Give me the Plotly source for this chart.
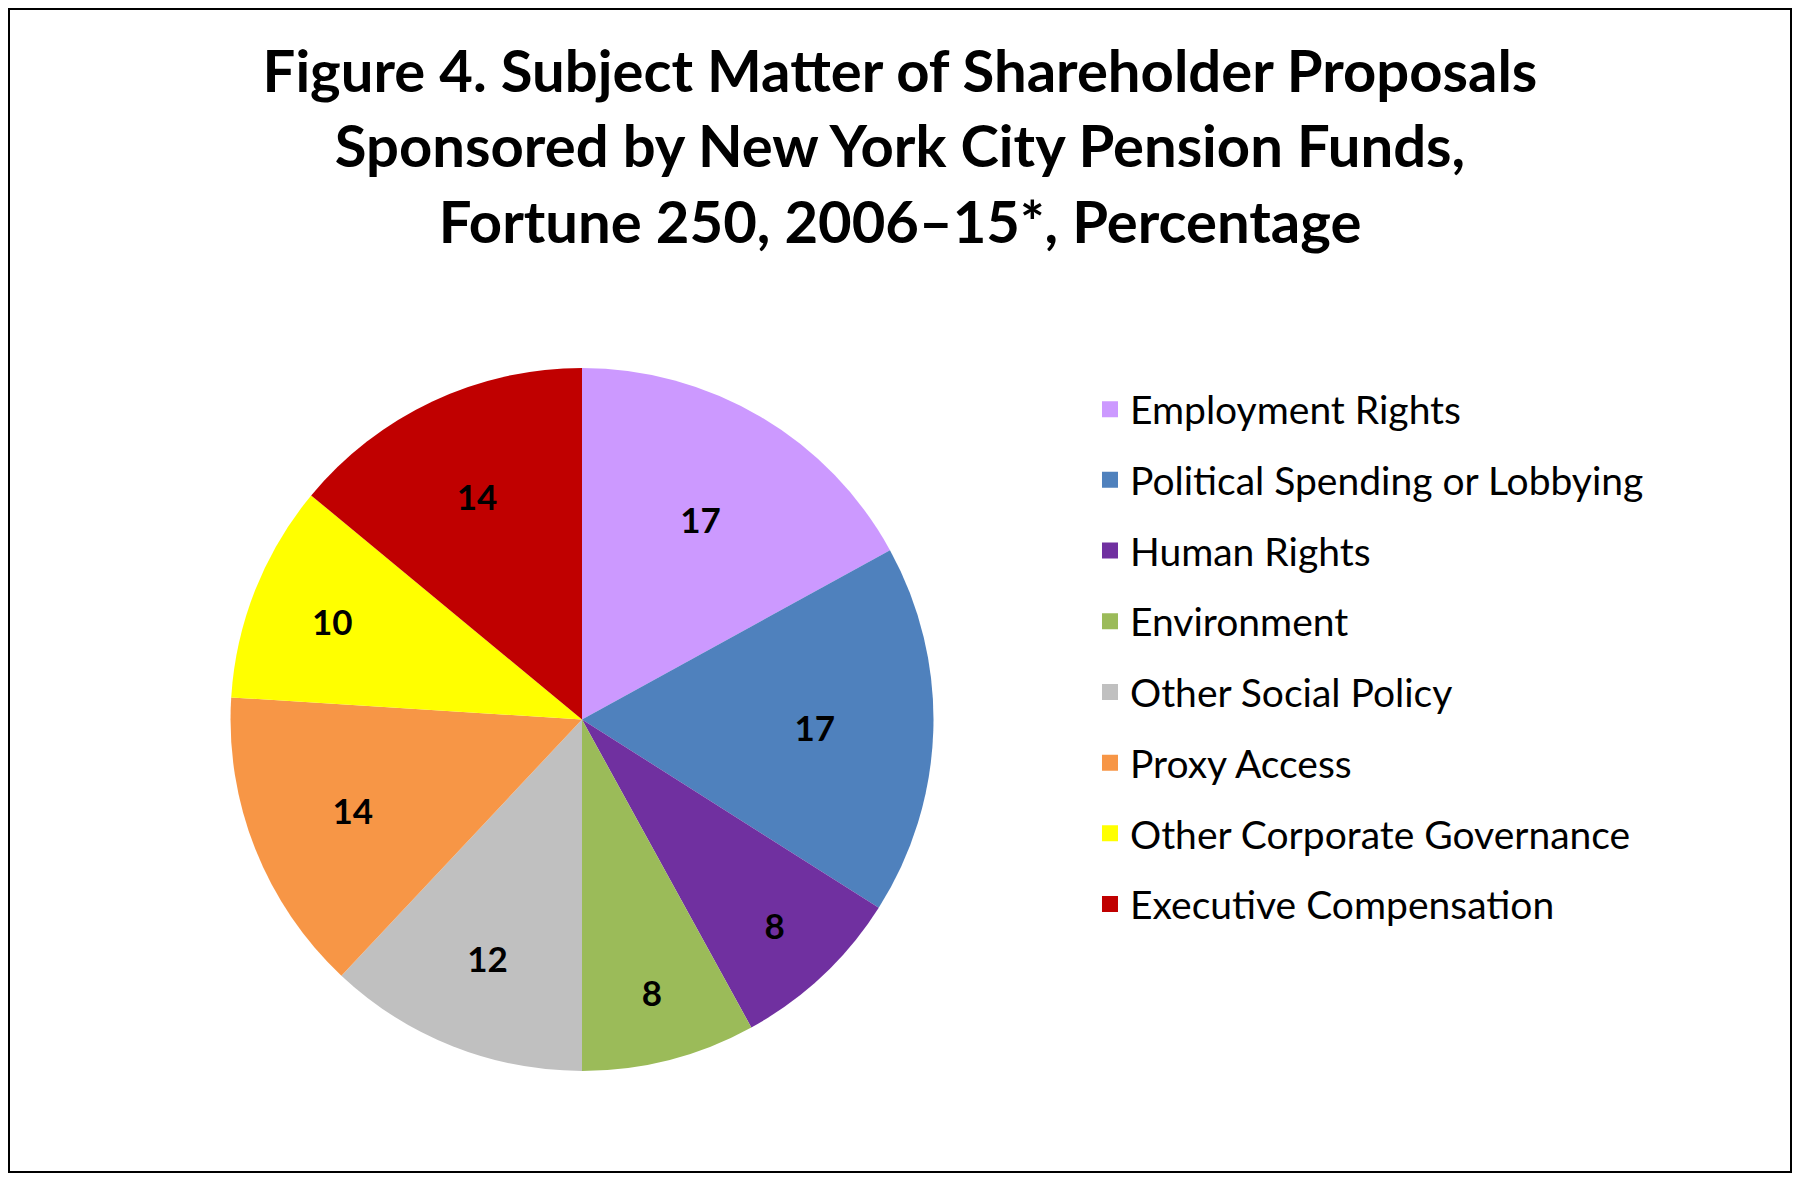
import plotly.graph_objects as go

categories = ["Employment Rights", "Political Spending or Lobbying", "Human Rights",
              "Environment", "Other Social Policy", "Proxy Access",
              "Other Corporate Governance", "Executive Compensation"]
values = [17, 17, 8, 8, 12, 14, 10, 14]
colors = ["#CC99FF", "#4F81BD", "#7030A0", "#9BBB59", "#C0C0C0", "#F79646",
          "#FFFF00", "#C00000"]
title_lines = ["Figure 4. Subject Matter of Shareholder Proposals",
               "Sponsored by New York City Pension Funds,",
               "Fortune 250, 2006\u201315*, Percentage"]

W, H = 1784, 1165

fig = go.Figure()
fig.add_trace(go.Pie(
    labels=categories, values=values, sort=False, direction="clockwise",
    rotation=0, marker=dict(colors=colors, line=dict(width=0)),
    textinfo="value", textposition="inside", insidetextorientation="horizontal",
    textfont=dict(family="Lato", size=35, color="black", weight="bold"),
    showlegend=False, domain=dict(x=[0.1247, 0.5188], y=[0.0876, 0.691]),
))
for c, col in zip(categories, colors):
    fig.add_trace(go.Scatter(
        x=[None], y=[None], mode="markers", name=c, legendgroup=c,
        marker=dict(symbol="square", size=20, color=col), showlegend=True,
    ))

fig.update_layout(
    width=W, height=H, margin=dict(l=0, r=0, t=0, b=0),
    paper_bgcolor="white", plot_bgcolor="white",
    xaxis=dict(visible=False), yaxis=dict(visible=False),
    title=dict(text="<br>".join(title_lines), x=0.5, xanchor="center",
               y=1 - 84 / H, yanchor="middle", yref="container",
               font=dict(family="Lato", size=58, color="black", weight="bold")),
    legend=dict(x=0.6065, xanchor="left", y=0.683, yanchor="top",
                font=dict(family="Lato", size=39, color="black"),
                tracegroupgap=17, itemsizing="trace", traceorder="grouped",
                bgcolor="rgba(0,0,0,0)"),
    shapes=[dict(type="rect", xref="paper", yref="paper", x0=0, y0=0, x1=1, y1=1,
                 line=dict(color="black", width=4))],
)
fig.write_html("out.html")
